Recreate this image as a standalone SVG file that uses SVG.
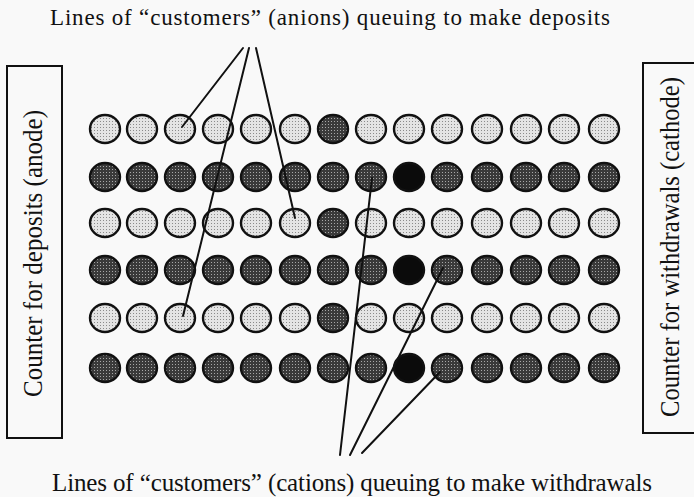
<svg xmlns="http://www.w3.org/2000/svg" width="694" height="497" viewBox="0 0 694 497">
<style>
.t{font-family:"Liberation Serif","Times New Roman",serif;fill:#111}
.box{fill:none;stroke:#111;stroke-width:2}
.c ellipse{stroke:#111;stroke-width:2.4}
.L{fill:url(#pl)}
.D{fill:url(#pd)}
.B{fill:#0b0b0b}
#connectors line{stroke:#111;stroke-width:2;stroke-linecap:round}
</style>
<defs>
<pattern id="pl" width="3" height="3" patternUnits="userSpaceOnUse">
<rect width="3" height="3" fill="#e4e4e4"/><rect x="1" y="1" width="1" height="1" fill="#8a8a8a"/>
</pattern>
<pattern id="pd" width="3" height="3" patternUnits="userSpaceOnUse">
<rect width="3" height="3" fill="#3a3a3a"/><rect x="1" y="1" width="1" height="1" fill="#a8a8a8"/>
</pattern>
</defs>
<rect width="694" height="497" fill="#f9f9f9"/>

<g id="title-top"><text class="t" x="50" y="25" font-size="23" textLength="560">Lines of “customers” (anions) queuing to make deposits</text></g>
<g id="title-bottom"><text class="t" x="52" y="491" font-size="25" textLength="600">Lines of “customers” (cations) queuing to make withdrawals</text></g>

<g id="anode">
<rect class="box" x="7" y="66" width="55" height="372"/>
<text class="t" font-size="27" textLength="287" lengthAdjust="spacingAndGlyphs" transform="translate(42,397) rotate(-90)">Counter for deposits (anode)</text>
</g>
<g id="cathode">
<rect class="box" x="643" y="63" width="60" height="370"/>
<text class="t" font-size="27" textLength="340" lengthAdjust="spacingAndGlyphs" transform="translate(679,417) rotate(-90)">Counter for withdrawals (cathode)</text>
</g>

<g id="row1" class="c">
<g id="r1c1"><ellipse class="L" cx="105" cy="129" rx="15" ry="14"/></g>
<g id="r1c2"><ellipse class="L" cx="142" cy="129" rx="15" ry="14"/></g>
<g id="r1c3"><ellipse class="L" cx="180" cy="129" rx="15" ry="14"/></g>
<g id="r1c4"><ellipse class="L" cx="218" cy="129" rx="15" ry="14"/></g>
<g id="r1c5"><ellipse class="L" cx="256" cy="129" rx="15" ry="14"/></g>
<g id="r1c6"><ellipse class="L" cx="295" cy="129" rx="15" ry="14"/></g>
<g id="r1c7"><ellipse class="D" cx="333" cy="129" rx="15" ry="14"/></g>
<g id="r1c8"><ellipse class="L" cx="371" cy="129" rx="15" ry="14"/></g>
<g id="r1c9"><ellipse class="L" cx="409" cy="129" rx="15" ry="14"/></g>
<g id="r1c10"><ellipse class="L" cx="447" cy="129" rx="15" ry="14"/></g>
<g id="r1c11"><ellipse class="L" cx="487" cy="129" rx="15" ry="14"/></g>
<g id="r1c12"><ellipse class="L" cx="526" cy="129" rx="15" ry="14"/></g>
<g id="r1c13"><ellipse class="L" cx="564" cy="129" rx="15" ry="14"/></g>
<g id="r1c14"><ellipse class="L" cx="604" cy="129" rx="15" ry="14"/></g>
</g>
<g id="row2" class="c">
<g id="r2c1"><ellipse class="D" cx="105" cy="177" rx="15" ry="14"/></g>
<g id="r2c2"><ellipse class="D" cx="142" cy="177" rx="15" ry="14"/></g>
<g id="r2c3"><ellipse class="D" cx="180" cy="177" rx="15" ry="14"/></g>
<g id="r2c4"><ellipse class="D" cx="218" cy="177" rx="15" ry="14"/></g>
<g id="r2c5"><ellipse class="D" cx="256" cy="177" rx="15" ry="14"/></g>
<g id="r2c6"><ellipse class="D" cx="295" cy="177" rx="15" ry="14"/></g>
<g id="r2c7"><ellipse class="D" cx="333" cy="177" rx="15" ry="14"/></g>
<g id="r2c8"><ellipse class="D" cx="371" cy="177" rx="15" ry="14"/></g>
<g id="r2c9"><ellipse class="B" cx="409" cy="177" rx="15" ry="14"/></g>
<g id="r2c10"><ellipse class="D" cx="447" cy="177" rx="15" ry="14"/></g>
<g id="r2c11"><ellipse class="D" cx="487" cy="177" rx="15" ry="14"/></g>
<g id="r2c12"><ellipse class="D" cx="526" cy="177" rx="15" ry="14"/></g>
<g id="r2c13"><ellipse class="D" cx="564" cy="177" rx="15" ry="14"/></g>
<g id="r2c14"><ellipse class="D" cx="604" cy="177" rx="15" ry="14"/></g>
</g>
<g id="row3" class="c">
<g id="r3c1"><ellipse class="L" cx="105" cy="223" rx="15" ry="14"/></g>
<g id="r3c2"><ellipse class="L" cx="142" cy="223" rx="15" ry="14"/></g>
<g id="r3c3"><ellipse class="L" cx="180" cy="223" rx="15" ry="14"/></g>
<g id="r3c4"><ellipse class="L" cx="218" cy="223" rx="15" ry="14"/></g>
<g id="r3c5"><ellipse class="L" cx="256" cy="223" rx="15" ry="14"/></g>
<g id="r3c6"><ellipse class="L" cx="295" cy="223" rx="15" ry="14"/></g>
<g id="r3c7"><ellipse class="D" cx="333" cy="223" rx="15" ry="14"/></g>
<g id="r3c8"><ellipse class="L" cx="371" cy="223" rx="15" ry="14"/></g>
<g id="r3c9"><ellipse class="L" cx="409" cy="223" rx="15" ry="14"/></g>
<g id="r3c10"><ellipse class="L" cx="447" cy="223" rx="15" ry="14"/></g>
<g id="r3c11"><ellipse class="L" cx="487" cy="223" rx="15" ry="14"/></g>
<g id="r3c12"><ellipse class="L" cx="526" cy="223" rx="15" ry="14"/></g>
<g id="r3c13"><ellipse class="L" cx="564" cy="223" rx="15" ry="14"/></g>
<g id="r3c14"><ellipse class="L" cx="604" cy="223" rx="15" ry="14"/></g>
</g>
<g id="row4" class="c">
<g id="r4c1"><ellipse class="D" cx="105" cy="270" rx="15" ry="14"/></g>
<g id="r4c2"><ellipse class="D" cx="142" cy="270" rx="15" ry="14"/></g>
<g id="r4c3"><ellipse class="D" cx="180" cy="270" rx="15" ry="14"/></g>
<g id="r4c4"><ellipse class="D" cx="218" cy="270" rx="15" ry="14"/></g>
<g id="r4c5"><ellipse class="D" cx="256" cy="270" rx="15" ry="14"/></g>
<g id="r4c6"><ellipse class="D" cx="295" cy="270" rx="15" ry="14"/></g>
<g id="r4c7"><ellipse class="D" cx="333" cy="270" rx="15" ry="14"/></g>
<g id="r4c8"><ellipse class="D" cx="371" cy="270" rx="15" ry="14"/></g>
<g id="r4c9"><ellipse class="B" cx="409" cy="270" rx="15" ry="14"/></g>
<g id="r4c10"><ellipse class="D" cx="447" cy="270" rx="15" ry="14"/></g>
<g id="r4c11"><ellipse class="D" cx="487" cy="270" rx="15" ry="14"/></g>
<g id="r4c12"><ellipse class="D" cx="526" cy="270" rx="15" ry="14"/></g>
<g id="r4c13"><ellipse class="D" cx="564" cy="270" rx="15" ry="14"/></g>
<g id="r4c14"><ellipse class="D" cx="604" cy="270" rx="15" ry="14"/></g>
</g>
<g id="row5" class="c">
<g id="r5c1"><ellipse class="L" cx="105" cy="318" rx="15" ry="14"/></g>
<g id="r5c2"><ellipse class="L" cx="142" cy="318" rx="15" ry="14"/></g>
<g id="r5c3"><ellipse class="L" cx="180" cy="318" rx="15" ry="14"/></g>
<g id="r5c4"><ellipse class="L" cx="218" cy="318" rx="15" ry="14"/></g>
<g id="r5c5"><ellipse class="L" cx="256" cy="318" rx="15" ry="14"/></g>
<g id="r5c6"><ellipse class="L" cx="295" cy="318" rx="15" ry="14"/></g>
<g id="r5c7"><ellipse class="D" cx="333" cy="318" rx="15" ry="14"/></g>
<g id="r5c8"><ellipse class="L" cx="371" cy="318" rx="15" ry="14"/></g>
<g id="r5c9"><ellipse class="L" cx="409" cy="318" rx="15" ry="14"/></g>
<g id="r5c10"><ellipse class="L" cx="447" cy="318" rx="15" ry="14"/></g>
<g id="r5c11"><ellipse class="L" cx="487" cy="318" rx="15" ry="14"/></g>
<g id="r5c12"><ellipse class="L" cx="526" cy="318" rx="15" ry="14"/></g>
<g id="r5c13"><ellipse class="L" cx="564" cy="318" rx="15" ry="14"/></g>
<g id="r5c14"><ellipse class="L" cx="604" cy="318" rx="15" ry="14"/></g>
</g>
<g id="row6" class="c">
<g id="r6c1"><ellipse class="D" cx="105" cy="368" rx="15" ry="14"/></g>
<g id="r6c2"><ellipse class="D" cx="142" cy="368" rx="15" ry="14"/></g>
<g id="r6c3"><ellipse class="D" cx="180" cy="368" rx="15" ry="14"/></g>
<g id="r6c4"><ellipse class="D" cx="218" cy="368" rx="15" ry="14"/></g>
<g id="r6c5"><ellipse class="D" cx="256" cy="368" rx="15" ry="14"/></g>
<g id="r6c6"><ellipse class="D" cx="295" cy="368" rx="15" ry="14"/></g>
<g id="r6c7"><ellipse class="D" cx="333" cy="368" rx="15" ry="14"/></g>
<g id="r6c8"><ellipse class="D" cx="371" cy="368" rx="15" ry="14"/></g>
<g id="r6c9"><ellipse class="B" cx="409" cy="368" rx="15" ry="14"/></g>
<g id="r6c10"><ellipse class="D" cx="447" cy="368" rx="15" ry="14"/></g>
<g id="r6c11"><ellipse class="D" cx="487" cy="368" rx="15" ry="14"/></g>
<g id="r6c12"><ellipse class="D" cx="526" cy="368" rx="15" ry="14"/></g>
<g id="r6c13"><ellipse class="D" cx="564" cy="368" rx="15" ry="14"/></g>
<g id="r6c14"><ellipse class="D" cx="604" cy="368" rx="15" ry="14"/></g>
</g>

<g id="connectors">
<line x1="243" y1="48" x2="182" y2="127"/>
<line x1="249" y1="48" x2="183" y2="316"/>
<line x1="256" y1="48" x2="295" y2="218"/>
<line x1="372" y1="178" x2="340" y2="455"/>
<line x1="443" y1="268" x2="350" y2="455"/>
<line x1="440" y1="372" x2="362" y2="453"/>
</g>
</svg>
